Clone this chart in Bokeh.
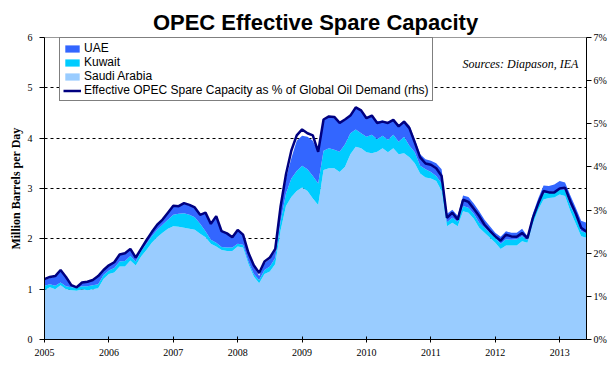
from bokeh.plotting import figure
from bokeh.models import (ColumnDataSource, Range1d, LinearAxis, FixedTicker,
                          PrintfTickFormatter, Legend, LegendItem, Label)
from bokeh.embed import file_html
from bokeh.resources import INLINE

# Monthly data, Jan 2005 .. Jun 2013 (million barrels per day)
saudi = [0.98, 1.04, 1.00, 1.08, 1.00, 0.98, 0.97, 1.00, 0.98, 1.00,
         1.02, 1.20, 1.30, 1.33, 1.45, 1.45, 1.57, 1.47, 1.65, 1.78,
         1.92, 2.03, 2.12, 2.20, 2.25, 2.24, 2.22, 2.20, 2.18, 2.10,
         2.03, 1.90, 1.85, 1.78, 1.76, 1.76, 1.85, 1.83, 1.50, 1.25,
         1.12, 1.30, 1.35, 1.50, 2.17, 2.65, 2.83, 2.95, 3.02, 2.95,
         2.80, 2.67, 3.37, 3.40, 3.40, 3.33, 3.43, 3.68, 3.83, 3.80,
         3.72, 3.70, 3.73, 3.80, 3.72, 3.80, 3.68, 3.70, 3.62, 3.50,
         3.30, 3.22, 3.20, 3.15, 2.95, 2.25, 2.32, 2.25, 2.55, 2.52,
         2.40, 2.22, 2.12, 2.02, 1.92, 1.80, 1.87, 1.87, 1.87, 1.95,
         1.92, 2.30, 2.58, 2.78, 2.81, 2.82, 2.88, 2.85, 2.55, 2.30,
         2.05, 2.02]
kuwait = [0.09, 0.06, 0.07, 0.05, 0.06, 0.06, 0.06, 0.06, 0.08, 0.08,
          0.08, 0.08, 0.07, 0.09, 0.10, 0.11, 0.09, 0.08, 0.11, 0.12,
          0.13, 0.15, 0.16, 0.18, 0.23, 0.26, 0.29, 0.28, 0.25, 0.20,
          0.12, 0.08, 0.07, 0.06, 0.07, 0.07, 0.05, 0.05, 0.05, 0.05,
          0.06, 0.08, 0.10, 0.12, 0.18, 0.25, 0.37, 0.40, 0.43, 0.43,
          0.45, 0.43, 0.38, 0.40, 0.37, 0.40, 0.45, 0.42, 0.34, 0.30,
          0.31, 0.37, 0.25, 0.25, 0.25, 0.27, 0.25, 0.33, 0.23, 0.22,
          0.15, 0.16, 0.13, 0.10, 0.15, 0.08, 0.10, 0.09, 0.10, 0.10,
          0.10, 0.10, 0.10, 0.10, 0.10, 0.10, 0.12, 0.11, 0.12, 0.10,
          0.05, 0.10, 0.12, 0.12, 0.11, 0.13, 0.10, 0.12, 0.10, 0.15,
          0.10, 0.10]
uae = [0.11, 0.12, 0.18, 0.23, 0.18, 0.04, 0.02, 0.06, 0.08, 0.09,
       0.15, 0.10, 0.10, 0.11, 0.13, 0.14, 0.13, 0.08, 0.06, 0.06,
       0.07, 0.09, 0.10, 0.13, 0.16, 0.13, 0.19, 0.18, 0.19, 0.17,
       0.37, 0.32, 0.54, 0.31, 0.29, 0.21, 0.28, 0.20, 0.17, 0.16,
       0.08, 0.14, 0.15, 0.14, 0.25, 0.30, 0.40, 0.60, 0.60, 0.65,
       0.70, 0.63, 0.60, 0.62, 0.63, 0.57, 0.47, 0.35, 0.43, 0.45,
       0.39, 0.38, 0.35, 0.30, 0.33, 0.31, 0.33, 0.32, 0.40, 0.26,
       0.23, 0.20, 0.22, 0.25, 0.28, 0.17, 0.16, 0.12, 0.21, 0.21,
       0.20, 0.23, 0.16, 0.13, 0.10, 0.14, 0.16, 0.14, 0.13, 0.15,
       0.08, 0.10, 0.10, 0.16, 0.13, 0.13, 0.17, 0.15, 0.21, 0.17,
       0.21, 0.20]
# Effective OPEC spare capacity as % of global oil demand (rhs)
spare_pct = [1.40, 1.45, 1.47, 1.61, 1.45, 1.26, 1.21, 1.32, 1.34, 1.38,
             1.47, 1.61, 1.72, 1.79, 1.97, 2.00, 2.10, 1.90, 2.10, 2.30,
             2.49, 2.66, 2.78, 2.94, 3.10, 3.09, 3.16, 3.12, 3.06, 2.89,
             2.94, 2.68, 2.86, 2.51, 2.46, 2.37, 2.54, 2.43, 2.01, 1.72,
             1.54, 1.81, 1.90, 2.10, 3.09, 3.83, 4.38, 4.73, 4.87, 4.78,
             4.73, 4.35, 5.10, 5.17, 5.16, 5.02, 5.10, 5.19, 5.38, 5.31,
             5.13, 5.19, 5.02, 5.05, 5.02, 5.09, 4.94, 5.05, 4.90, 4.57,
             4.22, 4.08, 4.05, 3.97, 3.79, 2.82, 2.94, 2.78, 3.24, 3.19,
             3.03, 2.86, 2.66, 2.52, 2.39, 2.29, 2.43, 2.39, 2.38, 2.47,
             2.35, 2.82, 3.15, 3.44, 3.41, 3.41, 3.50, 3.52, 3.20, 2.92,
             2.59, 2.50]
years = [2005, 2006, 2007, 2008, 2009, 2010, 2011, 2012, 2013]
left_ticks = [0, 1, 2, 3, 4, 5, 6]
right_ticks = [0, 1, 2, 3, 4, 5, 6, 7]

SAUDI_C = "#99CCFF"
KUWAIT_C = "#00CCFF"
UAE_C = "#3366FF"
LINE_C = "#000080"

x = [2005 + m / 12 for m in range(len(saudi))]
src = ColumnDataSource(dict(x=x, saudi=saudi, kuwait=kuwait, uae=uae, pct=spare_pct))

p = figure(frame_width=542, frame_height=302,
           min_border_left=44, min_border_right=24, min_border_top=37, min_border_bottom=36,
           x_range=Range1d(2005, 2005 + (len(saudi) - 1) / 12), y_range=Range1d(0, 6),
           output_backend="svg", toolbar_location=None,
           title="OPEC Effective Spare Capacity")
p.extra_y_ranges = {"pct": Range1d(0, 7)}
p.background_fill_color = "white"
p.border_fill_color = "white"
p.outline_line_color = "#999999"

p.title.align = "center"
p.title.text_font = "Liberation Sans"
p.title.text_font_size = "22px"
p.title.text_font_style = "bold"
p.title.text_color = "black"
p.title.standoff = 6
p.title.offset = -10

areas = p.varea_stack(["saudi", "kuwait", "uae"], x="x", source=src,
                      fill_color=[SAUDI_C, KUWAIT_C, UAE_C])
line = p.line("x", "pct", source=src, y_range_name="pct",
              line_color=LINE_C, line_width=2.5)

# grid
p.xgrid.visible = False
p.ygrid.ticker = FixedTicker(ticks=[1, 2, 3, 4, 5])
p.ygrid.grid_line_color = "black"
p.ygrid.grid_line_dash = "3 3"
p.ygrid.grid_line_width = 1

# axes
for ax in [p.xaxis[0], p.yaxis[0]]:
    ax.axis_line_color = "black"
    ax.major_tick_line_color = "black"
    ax.minor_tick_line_color = None
    ax.major_label_text_font = "Liberation Serif"
    ax.major_label_text_font_size = "10px"
    ax.major_label_text_color = "black"

p.xaxis.ticker = FixedTicker(ticks=years)
p.xaxis.major_tick_in = 3
p.xaxis.major_tick_out = 3
p.xaxis.major_label_standoff = 6

p.yaxis.ticker = FixedTicker(ticks=left_ticks)
p.yaxis.major_tick_in = 0
p.yaxis.major_tick_out = 5
p.yaxis.major_label_standoff = 7
p.yaxis.axis_label = "Million Barrels per Day"
p.yaxis.axis_label_text_font = "Liberation Serif"
p.yaxis.axis_label_text_font_size = "12px"
p.yaxis.axis_label_text_font_style = "bold"
p.yaxis.axis_label_text_color = "black"
p.yaxis.axis_label_standoff = 2

rax = LinearAxis(y_range_name="pct", ticker=FixedTicker(ticks=right_ticks),
                 formatter=PrintfTickFormatter(format="%d%%"))
rax.axis_line_color = "black"
rax.major_tick_line_color = "black"
rax.minor_tick_line_color = None
rax.major_tick_in = 0
rax.major_tick_out = 5
rax.major_label_standoff = 2
rax.major_label_text_font = "Liberation Serif"
rax.major_label_text_font_size = "10px"
rax.major_label_text_color = "black"
p.add_layout(rax, "right")

legend = Legend(items=[
    LegendItem(label="UAE", renderers=[areas[2]]),
    LegendItem(label="Kuwait", renderers=[areas[1]]),
    LegendItem(label="Saudi Arabia", renderers=[areas[0]]),
    LegendItem(label="Effective OPEC Spare Capacity as % of Global Oil Demand (rhs)", renderers=[line]),
], location=(15, 238))
legend.border_line_color = "black"
legend.border_line_width = 1
legend.background_fill_color = "white"
legend.background_fill_alpha = 1
legend.label_text_font = "Liberation Sans"
legend.label_text_font_size = "12px"
legend.label_text_color = "black"
legend.label_height = 13
legend.glyph_height = 9
legend.glyph_width = 18
legend.label_standoff = 3
legend.spacing = 0
legend.padding = 3
legend.margin = 0
p.add_layout(legend)

src_label = Label(x=2013.29, y=5.48, text="Sources: Diapason, IEA",
                  text_align="right", text_baseline="alphabetic",
                  text_font="Liberation Serif", text_font_style="italic",
                  text_font_size="12px", text_color="black")
p.add_layout(src_label)

open("out.html", "w").write(file_html(p, INLINE))
